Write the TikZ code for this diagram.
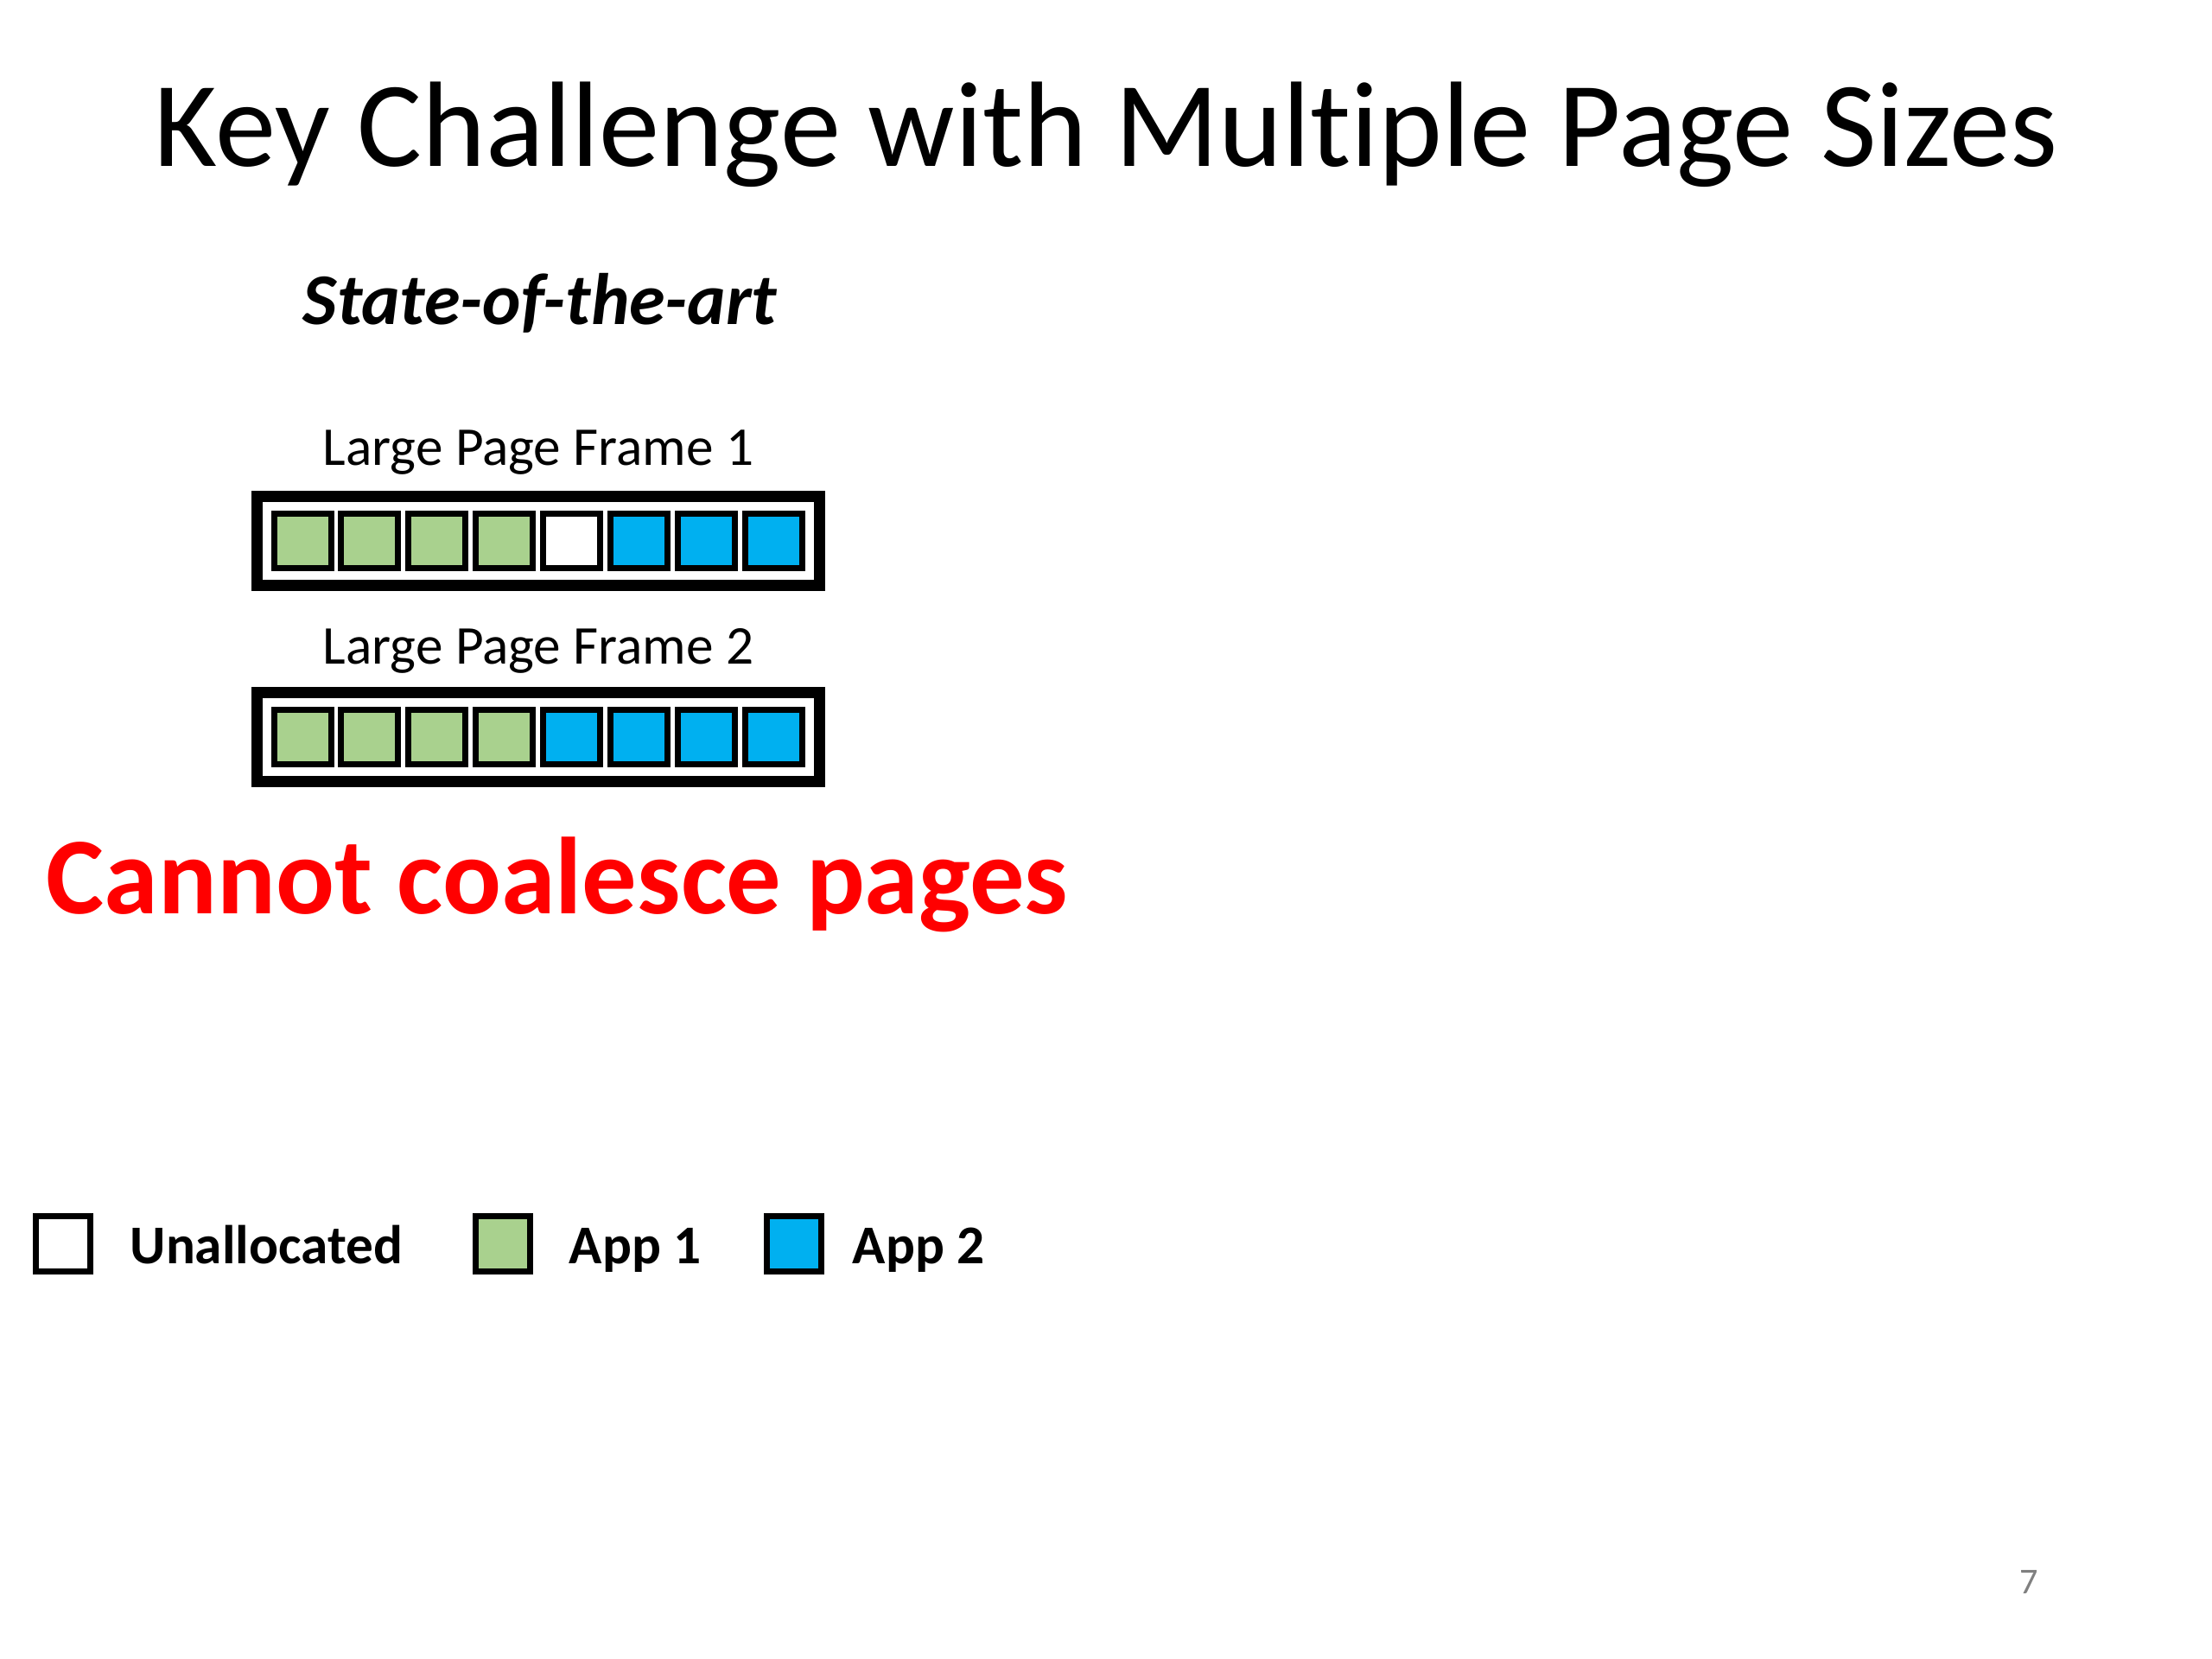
\documentclass[tikz,border=0pt]{standalone}
\usepackage{fontspec}
\setmainfont[Ligatures=NoCommon]{Carlito}
\usepackage{tikz}
\usepackage{xcolor}

\definecolor{appone}{HTML}{A9D18E}
\definecolor{apptwo}{HTML}{00B0F0}

\begin{document}
\begin{tikzpicture}[frame_node/.style={rectangle,draw,line width=0.13cm,minimum width=6.51cm,minimum height=1.03cm,inner sep=0pt},
cell_node/.style={rectangle,draw,line width=0.07cm,minimum width=0.66cm,minimum height=0.63cm,inner sep=0pt},
key_node/.style={rectangle,draw,line width=0.07cm,minimum width=0.63cm,minimum height=0.64cm,inner sep=0pt},
label_node/.style={inner sep=0pt,anchor=base}]

\useasboundingbox (0,0) rectangle (25.6,19.2);

\node[label_node] (title) at (12.80, 17.27) {\fontsize{40}{48}\selectfont Key Challenge with Multiple Page Sizes};
\node[label_node] (sota) at (6.25, 15.44) {\fontsize{24}{29}\selectfont\bfseries\itshape State-of-the-art};

\node[label_node] (lbl1) at (6.23, 13.81) {\fontsize{18}{22}\selectfont Large Page Frame 1};
\node[frame_node] (frame1) at (6.23, 12.94) {};
\node[label_node] (lbl2) at (6.23, 11.51) {\fontsize{18}{22}\selectfont Large Page Frame 2};
\node[frame_node] (frame2) at (6.23, 10.67) {};

% frame 1: four app 1, one free, three app 2
\foreach \i/\c in {0/appone,1/appone,2/appone,3/appone,4/white,5/apptwo,6/apptwo,7/apptwo}
  \node[cell_node,fill=\c] (a\i) at (3.50+0.779*\i, 12.94) {};
% frame 2: no free slot left
\foreach \i/\c in {0/appone,1/appone,2/appone,3/appone,4/apptwo,5/apptwo,6/apptwo,7/apptwo}
  \node[cell_node,fill=\c] (b\i) at (3.50+0.779*\i, 10.67) {};

\node[label_node] (msg) at (6.45, 8.62) {\fontsize{36}{43}\selectfont\bfseries\color[HTML]{FF0000}Cannot coalesce pages};

% legend
\node[key_node,fill=white] (keyfree) at (0.73, 4.805) {};
\node[inner sep=0pt,anchor=base west] (txtfree) at (1.50, 4.57) {\fontsize{18}{22}\selectfont\bfseries Unallocated};
\node[key_node,fill=appone] (keyone) at (5.82, 4.805) {};
\node[inner sep=0pt,anchor=base west] (txtone) at (6.58, 4.57) {\fontsize{18}{22}\selectfont\bfseries App 1};
\node[key_node,fill=apptwo] (keytwo) at (9.185, 4.805) {};
\node[inner sep=0pt,anchor=base west] (txttwo) at (9.86, 4.57) {\fontsize{18}{22}\selectfont\bfseries App 2};

\node[inner sep=0pt,text=gray] (pagenum) at (23.48, 0.89) {\fontsize{12}{14}\selectfont 7};

\end{tikzpicture}
\end{document}
